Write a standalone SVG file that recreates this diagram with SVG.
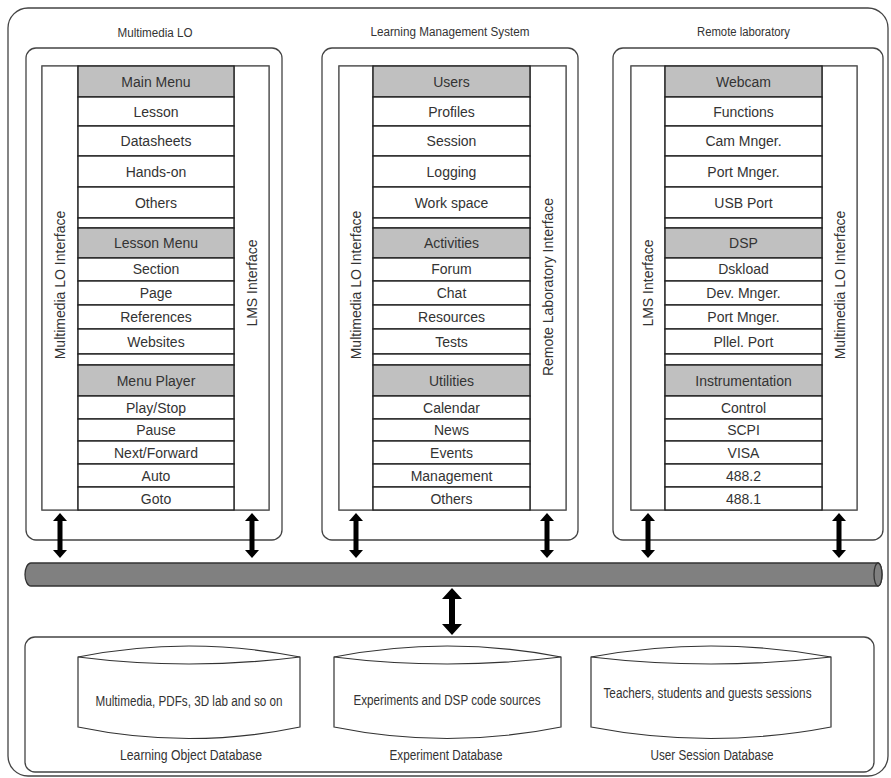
<svg xmlns="http://www.w3.org/2000/svg" width="891" height="778" viewBox="0 0 891 778">
<style>
.bg{fill:#fff}
.outer{fill:#fff;stroke:#444;stroke-width:1.3}
.panel{fill:#fff;stroke:#444;stroke-width:1.3}
.frame{fill:#fff;stroke:#555;stroke-width:1.3}
.row{fill:#fff;stroke:#222;stroke-width:1.4}
.hdr{fill:#c0c0c0;stroke:#222;stroke-width:1.4}
.t{font-family:"Liberation Sans",Arial,sans-serif;font-size:14px;fill:#333;text-anchor:middle}
.ti{font-family:"Liberation Sans",Arial,sans-serif;font-size:12.5px;fill:#333;text-anchor:middle}
.td{font-family:"Liberation Sans",Arial,sans-serif;font-size:14px;fill:#333;text-anchor:middle}
.arr{fill:#000}
.db{fill:#fff;stroke:#333;stroke-width:1.2}
.bus{fill:#808080;stroke:#333;stroke-width:1.3}
</style>
<rect class="bg" x="0" y="0" width="891" height="778"/>
<rect id="outer" class="outer" x="8" y="8" width="880" height="768" rx="20"/>

<g id="multimedia-lo">
<text class="ti" x="155" y="37" textLength="75" lengthAdjust="spacingAndGlyphs">Multimedia LO</text>
<rect class="panel" x="26" y="48" width="256" height="492" rx="10"/>
<rect class="frame" x="42" y="66" width="227" height="444"/>
<rect class="frame" x="42" y="66" width="36" height="444"/>
<rect class="frame" x="234" y="66" width="35" height="444"/>
<rect class="hdr" x="78" y="66" width="156" height="31"/>
<rect class="row" x="78" y="97" width="156" height="29"/>
<rect class="row" x="78" y="126" width="156" height="30"/>
<rect class="row" x="78" y="156" width="156" height="31"/>
<rect class="row" x="78" y="187" width="156" height="31"/>
<rect class="row" x="78" y="218" width="156" height="10"/>
<rect class="hdr" x="78" y="228" width="156" height="30"/>
<rect class="row" x="78" y="258" width="156" height="23"/>
<rect class="row" x="78" y="281" width="156" height="24"/>
<rect class="row" x="78" y="305" width="156" height="24"/>
<rect class="row" x="78" y="329" width="156" height="25"/>
<rect class="row" x="78" y="354" width="156" height="11"/>
<rect class="hdr" x="78" y="365" width="156" height="31"/>
<rect class="row" x="78" y="396" width="156" height="23"/>
<rect class="row" x="78" y="419" width="156" height="22"/>
<rect class="row" x="78" y="441" width="156" height="23"/>
<rect class="row" x="78" y="464" width="156" height="23"/>
<rect class="row" x="78" y="487" width="156" height="23"/>
<text class="t" x="156" y="86.5">Main Menu</text>
<text class="t" x="156" y="116.5">Lesson</text>
<text class="t" x="156" y="146">Datasheets</text>
<text class="t" x="156" y="176.5">Hands-on</text>
<text class="t" x="156" y="207.5">Others</text>
<text class="t" x="156" y="248">Lesson Menu</text>
<text class="t" x="156" y="274">Section</text>
<text class="t" x="156" y="298">Page</text>
<text class="t" x="156" y="322">References</text>
<text class="t" x="156" y="346.5">Websites</text>
<text class="t" x="156" y="385.5">Menu Player</text>
<text class="t" x="156" y="412.5">Play/Stop</text>
<text class="t" x="156" y="435">Pause</text>
<text class="t" x="156" y="457.5">Next/Forward</text>
<text class="t" x="156" y="480.5">Auto</text>
<text class="t" x="156" y="503.5">Goto</text>
<text class="t" transform="translate(65 285) rotate(-90)">Multimedia LO Interface</text>
<text class="t" transform="translate(256.5 283) rotate(-90)">LMS Interface</text>
</g>

<g id="lms">
<text class="ti" x="450" y="36" textLength="159" lengthAdjust="spacingAndGlyphs">Learning Management System</text>
<rect class="panel" x="322" y="48" width="256" height="492" rx="10"/>
<rect class="frame" x="339" y="66" width="227" height="444"/>
<rect class="frame" x="339" y="66" width="34" height="444"/>
<rect class="frame" x="530" y="66" width="36" height="444"/>
<rect class="hdr" x="373" y="66" width="157" height="31"/>
<rect class="row" x="373" y="97" width="157" height="29"/>
<rect class="row" x="373" y="126" width="157" height="30"/>
<rect class="row" x="373" y="156" width="157" height="31"/>
<rect class="row" x="373" y="187" width="157" height="31"/>
<rect class="row" x="373" y="218" width="157" height="10"/>
<rect class="hdr" x="373" y="228" width="157" height="30"/>
<rect class="row" x="373" y="258" width="157" height="23"/>
<rect class="row" x="373" y="281" width="157" height="24"/>
<rect class="row" x="373" y="305" width="157" height="24"/>
<rect class="row" x="373" y="329" width="157" height="25"/>
<rect class="row" x="373" y="354" width="157" height="11"/>
<rect class="hdr" x="373" y="365" width="157" height="31"/>
<rect class="row" x="373" y="396" width="157" height="23"/>
<rect class="row" x="373" y="419" width="157" height="22"/>
<rect class="row" x="373" y="441" width="157" height="23"/>
<rect class="row" x="373" y="464" width="157" height="23"/>
<rect class="row" x="373" y="487" width="157" height="23"/>
<text class="t" x="451.5" y="86.5">Users</text>
<text class="t" x="451.5" y="116.5">Profiles</text>
<text class="t" x="451.5" y="146">Session</text>
<text class="t" x="451.5" y="176.5">Logging</text>
<text class="t" x="451.5" y="207.5">Work space</text>
<text class="t" x="451.5" y="248">Activities</text>
<text class="t" x="451.5" y="274">Forum</text>
<text class="t" x="451.5" y="298">Chat</text>
<text class="t" x="451.5" y="322">Resources</text>
<text class="t" x="451.5" y="346.5">Tests</text>
<text class="t" x="451.5" y="385.5">Utilities</text>
<text class="t" x="451.5" y="412.5">Calendar</text>
<text class="t" x="451.5" y="435">News</text>
<text class="t" x="451.5" y="457.5">Events</text>
<text class="t" x="451.5" y="480.5">Management</text>
<text class="t" x="451.5" y="503.5">Others</text>
<text class="t" transform="translate(361 285) rotate(-90)">Multimedia LO Interface</text>
<text class="t" transform="translate(553 287) rotate(-90)">Remote Laboratory Interface</text>
</g>

<g id="remote-lab">
<text class="ti" x="743.5" y="36" textLength="93" lengthAdjust="spacingAndGlyphs">Remote laboratory</text>
<rect class="panel" x="613" y="48" width="270" height="492" rx="10"/>
<rect class="frame" x="631" y="66" width="226" height="444"/>
<rect class="frame" x="631" y="66" width="34" height="444"/>
<rect class="frame" x="822" y="66" width="35" height="444"/>
<rect class="hdr" x="665" y="66" width="157" height="31"/>
<rect class="row" x="665" y="97" width="157" height="29"/>
<rect class="row" x="665" y="126" width="157" height="30"/>
<rect class="row" x="665" y="156" width="157" height="31"/>
<rect class="row" x="665" y="187" width="157" height="31"/>
<rect class="row" x="665" y="218" width="157" height="10"/>
<rect class="hdr" x="665" y="228" width="157" height="30"/>
<rect class="row" x="665" y="258" width="157" height="23"/>
<rect class="row" x="665" y="281" width="157" height="24"/>
<rect class="row" x="665" y="305" width="157" height="24"/>
<rect class="row" x="665" y="329" width="157" height="25"/>
<rect class="row" x="665" y="354" width="157" height="11"/>
<rect class="hdr" x="665" y="365" width="157" height="31"/>
<rect class="row" x="665" y="396" width="157" height="23"/>
<rect class="row" x="665" y="419" width="157" height="22"/>
<rect class="row" x="665" y="441" width="157" height="23"/>
<rect class="row" x="665" y="464" width="157" height="23"/>
<rect class="row" x="665" y="487" width="157" height="23"/>
<text class="t" x="743.5" y="86.5">Webcam</text>
<text class="t" x="743.5" y="116.5">Functions</text>
<text class="t" x="743.5" y="146">Cam Mnger.</text>
<text class="t" x="743.5" y="176.5">Port Mnger.</text>
<text class="t" x="743.5" y="207.5">USB Port</text>
<text class="t" x="743.5" y="248">DSP</text>
<text class="t" x="743.5" y="274">Dskload</text>
<text class="t" x="743.5" y="298">Dev. Mnger.</text>
<text class="t" x="743.5" y="322">Port Mnger.</text>
<text class="t" x="743.5" y="346.5">Pllel. Port</text>
<text class="t" x="743.5" y="385.5">Instrumentation</text>
<text class="t" x="743.5" y="412.5">Control</text>
<text class="t" x="743.5" y="435">SCPI</text>
<text class="t" x="743.5" y="457.5">VISA</text>
<text class="t" x="743.5" y="480.5">488.2</text>
<text class="t" x="743.5" y="503.5">488.1</text>
<text class="t" transform="translate(653 283) rotate(-90)">LMS Interface</text>
<text class="t" transform="translate(844.5 285) rotate(-90)">Multimedia LO Interface</text>
</g>

<g id="bus">
<path class="bus" d="M31,563 H878 A4,11.5 0 0 1 878,586 H31 A6,11.5 0 0 1 31,563 Z"/>
<ellipse class="bus" cx="878" cy="574.5" rx="4" ry="11.5"/>
</g>

<g id="connectors">
<path class="arr" d="M60,513 L67,521 L62.5,521 L62.5,550 L67,550 L60,558 L53,550 L57.5,550 L57.5,521 L53,521 Z"/>
<path class="arr" d="M252,513 L259,521 L254.5,521 L254.5,550 L259,550 L252,558 L245,550 L249.5,550 L249.5,521 L245,521 Z"/>
<path class="arr" d="M356,513 L363,521 L358.5,521 L358.5,550 L363,550 L356,558 L349,550 L353.5,550 L353.5,521 L349,521 Z"/>
<path class="arr" d="M547,513 L554,521 L549.5,521 L549.5,550 L554,550 L547,558 L540,550 L544.5,550 L544.5,521 L540,521 Z"/>
<path class="arr" d="M648,513 L655,521 L650.5,521 L650.5,550 L655,550 L648,558 L641,550 L645.5,550 L645.5,521 L641,521 Z"/>
<path class="arr" d="M839,513 L846,521 L841.5,521 L841.5,550 L846,550 L839,558 L832,550 L836.5,550 L836.5,521 L832,521 Z"/>
<path class="arr" d="M452,588 L462,599 L455,599 L455,624 L462,624 L452,635 L442,624 L449,624 L449,599 L442,599 Z"/>
</g>

<g id="databases">
<rect class="panel" x="25" y="637" width="849" height="135" rx="10"/>
</g>

<g id="db-learning-object">
<path class="db" d="M78,657 Q189,635 300,657 L300,727 Q189,750 78,727 Z"/>
<path class="db" d="M78,657 Q189,671 300,657" fill="none"/>
<text class="td" x="189" y="706" textLength="187" lengthAdjust="spacingAndGlyphs">Multimedia, PDFs, 3D lab and so on</text>
<text class="td" x="191" y="760" textLength="142" lengthAdjust="spacingAndGlyphs">Learning Object Database</text>
</g>

<g id="db-experiment">
<path class="db" d="M334,657 Q447,635 561,657 L561,727 Q447,750 334,727 Z"/>
<path class="db" d="M334,657 Q447,671 561,657" fill="none"/>
<text class="td" x="447" y="705" textLength="187" lengthAdjust="spacingAndGlyphs">Experiments and DSP code sources</text>
<text class="td" x="446" y="760" textLength="113" lengthAdjust="spacingAndGlyphs">Experiment Database</text>
</g>

<g id="db-user-session">
<path class="db" d="M591,657 Q711,635 831,657 L831,727 Q711,750 591,727 Z"/>
<path class="db" d="M591,657 Q711,671 831,657" fill="none"/>
<text class="td" x="707.5" y="698" textLength="208" lengthAdjust="spacingAndGlyphs">Teachers, students and guests sessions</text>
<text class="td" x="712" y="760" textLength="123" lengthAdjust="spacingAndGlyphs">User Session Database</text>
</g>
</svg>
